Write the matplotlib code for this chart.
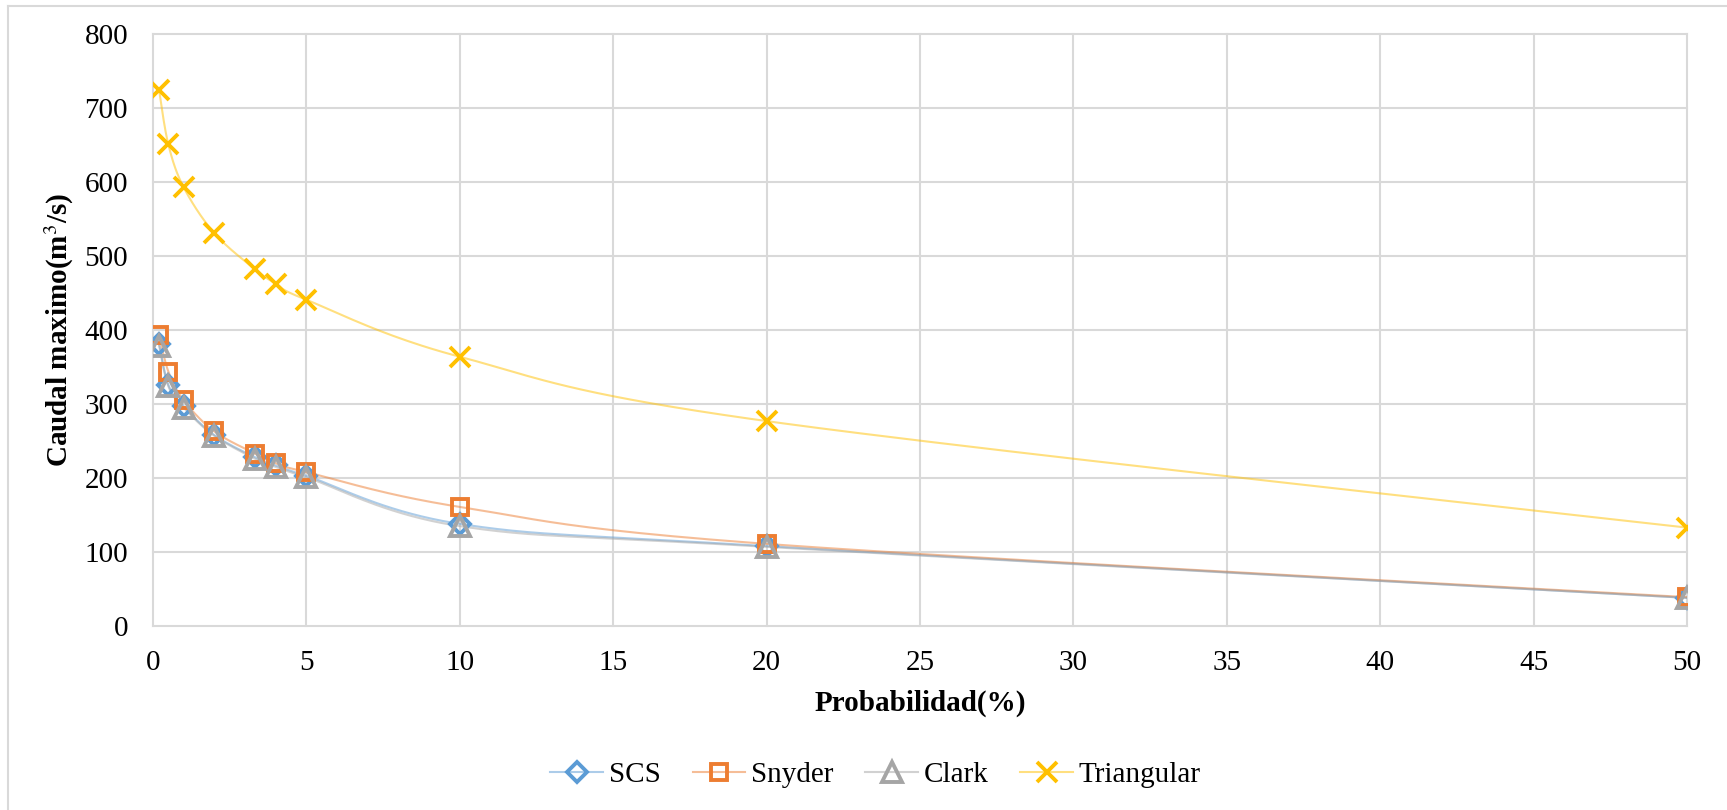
import numpy as np
import matplotlib
matplotlib.use('Agg')
from matplotlib import pyplot as plt
from matplotlib import colors as mcolors
from matplotlib.lines import Line2D

prob = [0.2, 0.5, 1, 2, 3.33, 4, 5, 10, 20, 50]
scs = [381, 326, 297, 258, 228, 217, 203, 138, 108, 38]
snyder = [393, 344, 305, 263, 233, 220, 208, 161, 111, 39]
clark = [379, 324, 295, 257, 226, 215, 201, 135, 107, 38]
triangular = [724, 651, 593, 531, 482, 463, 441, 364, 277, 133]

series = [('SCS', scs, '#5B9BD5', 'D', 10),
          ('Snyder', snyder, '#ED7D31', 's', 12),
          ('Clark', clark, '#A5A5A5', '^', 14),
          ('Triangular', triangular, '#FFC000', 'x', 14)]


def smooth(xs, ys, n=40):
    # excel style smoothed line: bezier through the points (catmull-rom)
    p = np.column_stack([xs, ys]).astype(float)
    out = []
    for i in range(len(p) - 1):
        p0 = p[i - 1] if i > 0 else p[i]
        p3 = p[i + 2] if i + 2 < len(p) else p[i + 1]
        c1 = p[i] + (p[i + 1] - p0) / 6
        c2 = p[i + 1] - (p3 - p[i]) / 6
        t = np.linspace(0, 1, n)[:, None]
        seg = (1 - t) ** 3 * p[i] + 3 * (1 - t) ** 2 * t * c1 + 3 * (1 - t) * t ** 2 * c2 + t ** 3 * p[i + 1]
        out.append(seg)
    out = np.vstack(out)
    return out[:, 0], out[:, 1]


plt.rcParams['font.family'] = ['Liberation Serif', 'DejaVu Serif']
plt.rcParams['mathtext.fontset'] = 'stix'

fig = plt.figure(figsize=(17.27, 8.10), dpi=100)
ax = fig.add_axes([0.0886, 0.2272, 0.8882, 0.7305])

handles = []
for name, vals, col, mk, ms in series:
    light = mcolors.to_rgba(col, 0.5)
    sx, sy = smooth(prob, vals)
    ax.plot(sx, sy, color=light, lw=1.5, zorder=2)
    ax.plot(prob, vals, ls='none', marker=mk, ms=ms, mfc='none' if mk != 'x' else col,
            mec=col, mew=2.8, zorder=3)
    handles.append(Line2D([], [], color=light, lw=1.5, marker=mk, ms=ms,
                          mfc='none', mec=col, mew=2.8))

ax.set_xlim(0, 50)
ax.set_ylim(0, 800)
ax.set_xticks(range(0, 51, 5))
ax.set_yticks(range(0, 801, 100))
ax.grid(True, color='#D9D9D9', lw=1.5)
for gl in ax.get_xgridlines() + ax.get_ygridlines():
    gl.set_clip_on(False)
ax.set_axisbelow(True)
for s in ax.spines.values():
    s.set_visible(False)
ax.tick_params(axis='both', length=0, labelsize=21)
ax.tick_params(axis='y', pad=18)
ax.tick_params(axis='x', pad=17)

ax.set_xlabel('Probabilidad(%)', fontsize=21, fontweight='bold', labelpad=10)
ax.set_ylabel('Caudal maximo(m$^3$/s)', fontsize=21, fontweight='bold', labelpad=6)

fig.legend(handles, [s[0] for s in series], loc='center', bbox_to_anchor=(0.507, 0.043),
           ncol=4, frameon=False, fontsize=21, handlelength=1.8, columnspacing=1.1,
           handletextpad=0.2)

# chart area border (only left and top edges show)
fig.add_artist(Line2D([0.0046, 0.0046], [0, 0.9926], transform=fig.transFigure,
                      color='#D9D9D9', lw=1.5))
fig.add_artist(Line2D([0.0046, 1], [0.9926, 0.9926], transform=fig.transFigure,
                      color='#D9D9D9', lw=1.5))

fig.savefig('out.png', dpi=100)
